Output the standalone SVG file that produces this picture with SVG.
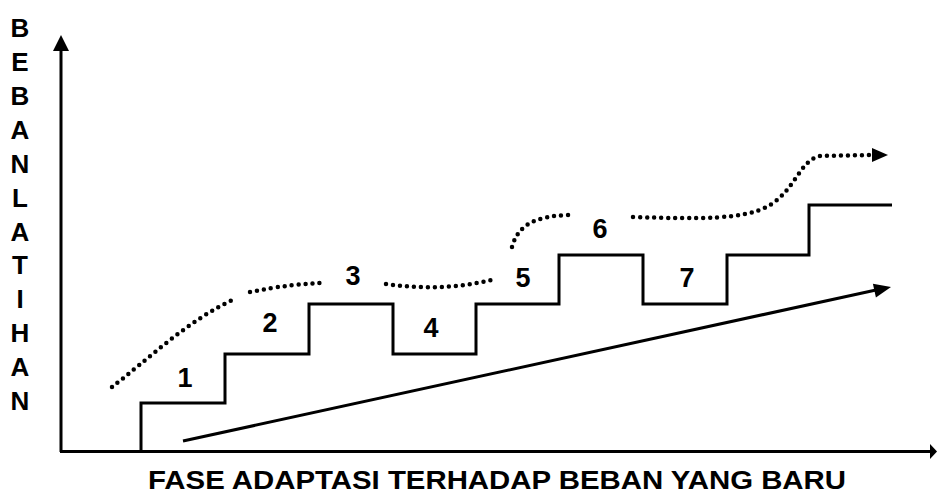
<svg xmlns="http://www.w3.org/2000/svg" width="937" height="494" viewBox="0 0 937 494">
<style>
.t{font-family:"Liberation Sans",Arial,sans-serif;font-weight:bold;font-size:26px;fill:#000}
.n{font-size:27px}
.m{text-anchor:middle}
.ln{fill:none;stroke:#000;stroke-width:3}
.dot{fill:none;stroke:#000;stroke-width:4.5;stroke-linecap:round;stroke-dasharray:0 7}
.hd{fill:#000}
</style>
<rect width="937" height="494" fill="#fff"/>
<g id="yaxis-label" class="t m">
<text x="20" y="37">B</text>
<text x="20" y="71">E</text>
<text x="20" y="105">B</text>
<text x="20" y="139">A</text>
<text x="20" y="173">N</text>
<text x="20" y="207">L</text>
<text x="20" y="241">A</text>
<text x="20" y="274">T</text>
<text x="20" y="308">I</text>
<text x="20" y="342">H</text>
<text x="20" y="376">A</text>
<text x="20" y="410">N</text>
</g>
<g id="axes">
<line class="ln" x1="61" y1="452" x2="61" y2="48"/>
<polygon class="hd" points="61,35 53,51 69,51"/>
<line class="ln" x1="60" y1="451.5" x2="932" y2="451.5"/>
<polygon class="hd" points="937,451.5 930,444 930,459"/>
</g>
<g id="staircase">
<path class="ln" d="M141,451 V403 H225 V354 H309 V304 H393 V354 H476 V304 H559 V255 H643 V304 H727 V255 H809 V205 H892"/>
</g>
<g id="connectors">
<line class="ln" x1="183" y1="441" x2="876" y2="290"/>
<polygon class="hd" points="891,287 875.9,297.4 872.9,283.8"/>
<path class="dot" d="M112,387 C145,362 190,318 237,298"/>
<path class="dot" d="M250,292 C280,286 300,284 322,283"/>
<path class="dot" d="M386,284 Q440,292 492,280"/>
<path class="dot" d="M512,247 C518,225 535,216 569,215"/>
<path class="dot" d="M633,217 C700,219 745,220 770,205 C795,190 800,160 820,156 L872,155"/>
<polygon class="hd" points="888,155 872,148 872,162"/>
</g>
<g id="numbers" class="t n m">
<text x="185" y="387">1</text>
<text x="270" y="332">2</text>
<text x="353" y="285">3</text>
<text x="431" y="337">4</text>
<text x="523" y="287">5</text>
<text x="600" y="238">6</text>
<text x="687" y="287">7</text>
</g>
<g id="xaxis-label">
<text class="t" x="148" y="489" font-size="28" textLength="698" lengthAdjust="spacingAndGlyphs">FASE ADAPTASI TERHADAP BEBAN YANG BARU</text>
</g>
</svg>
